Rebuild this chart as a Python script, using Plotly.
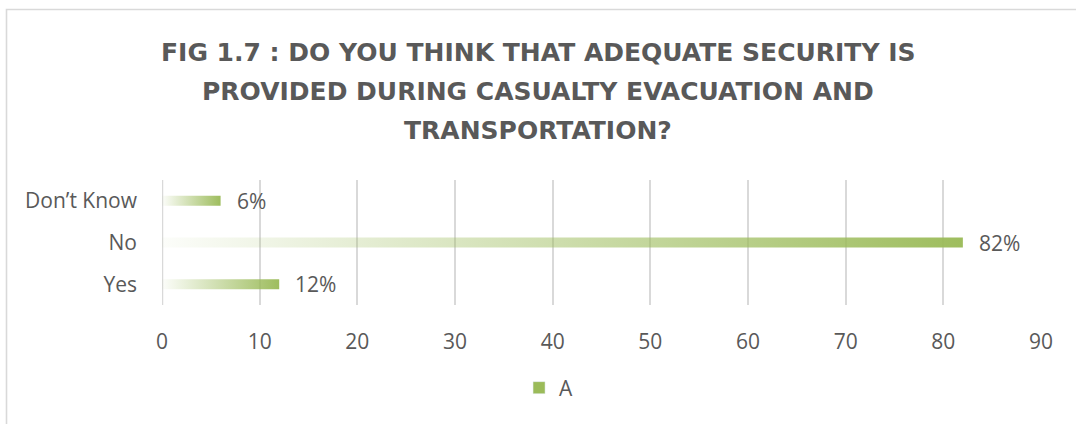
import plotly.graph_objects as go

# ---- data ----
categories = ["Yes", "No", "Don’t Know"]
values = [12, 82, 6]
value_labels = ["12%", "82%", "6%"]
x_tick_values = [0, 10, 20, 30, 40, 50, 60, 70, 80, 90]
series_name = "A"
title_lines = [
    "FIG 1.7 : DO YOU THINK THAT ADEQUATE SECURITY IS",
    "PROVIDED DURING CASUALTY EVACUATION AND",
    "TRANSPORTATION?",
]

# ---- style ----
GREEN = "#9BBB59"
TEXT = "#595959"
GRID = "#D9D9D9"
FONT = "Open Sans, sans-serif"
TITLE_FONT = "DejaVu Sans, sans-serif"
W, H = 1076, 424
ML, MR, MT, MB = 162, 35, 180, 119
PH = H - MT - MB
PW = W - ML - MR
HALF = 0.12
XC = (W / 2 - ML) / PW  # paper x of figure centre

fig = go.Figure()

for i, (cat, v) in enumerate(zip(categories, values)):
    fig.add_trace(go.Scatter(
        x=[0, v, v, 0, 0],
        y=[i - HALF, i - HALF, i + HALF, i + HALF, i - HALF],
        fill="toself",
        mode="none",
        fillgradient=dict(
            type="horizontal",
            colorscale=[[0, "rgba(155,187,89,0.03)"], [1, "rgba(155,187,89,0.97)"]],
        ),
        showlegend=False,
        hoverinfo="skip",
        name=cat,
    ))
    fig.add_annotation(
        x=v, y=i, text=value_labels[i], showarrow=False,
        xanchor="left", yanchor="middle", xshift=14,
        font=dict(family=FONT, size=21, color=TEXT),
    )

# legend entry
fig.add_trace(go.Bar(
    x=[None], y=[None], orientation="h", name=series_name,
    marker=dict(color=GREEN), showlegend=True,
))

# title lines
for k, line in enumerate(title_lines):
    ypix = 52 + 39 * k
    fig.add_annotation(
        x=XC, y=1 + (MT - ypix) / PH,
        xref="paper", yref="paper", text="<b>" + line + "</b>",
        showarrow=False, xanchor="center", yanchor="middle",
        font=dict(family=TITLE_FONT, size=25, color=TEXT),
    )

# chart border
fig.add_shape(
    type="rect", xref="paper", yref="paper",
    x0=(6.5 - ML) / PW, x1=(W + 20 - ML) / PW,
    y0=-(MB + 20) / PH, y1=1 + (MT - 9.5) / PH,
    line=dict(color=GRID, width=1.6), fillcolor="rgba(0,0,0,0)", layer="below",
)

fig.update_layout(
    width=W, height=H,
    margin=dict(l=ML, r=MR, t=MT, b=MB),
    paper_bgcolor="white", plot_bgcolor="white",
    font=dict(family=FONT, size=21, color=TEXT),
    showlegend=True,
    legend=dict(
        orientation="h", x=XC + 0.012, xanchor="center",
        y=-(388 - (H - MB)) / PH, yanchor="middle",
        font=dict(family=FONT, size=21, color=TEXT),
        itemwidth=30,
    ),
    xaxis=dict(
        range=[0, 90], tickvals=x_tick_values, showgrid=True,
        gridcolor=GRID, gridwidth=1.5, zeroline=False, showline=False,
        ticks="", ticklabelstandoff=22, fixedrange=True,
    ),
    yaxis=dict(
        range=[-0.5, len(categories) - 0.5],
        tickvals=list(range(len(categories))), ticktext=categories,
        showgrid=False, zeroline=False, showline=False, ticks="",
        ticklabelstandoff=24, fixedrange=True,
    ),
)
# emphasise the 0 line like the axis in the reference
fig.add_shape(type="line", xref="x", yref="paper", x0=0, x1=0, y0=0, y1=1,
              line=dict(color=GRID, width=2.5), layer="below")

fig.write_html("out.html", config={"displayModeBar": False},
               post_script="document.body.style.margin='0px';")
